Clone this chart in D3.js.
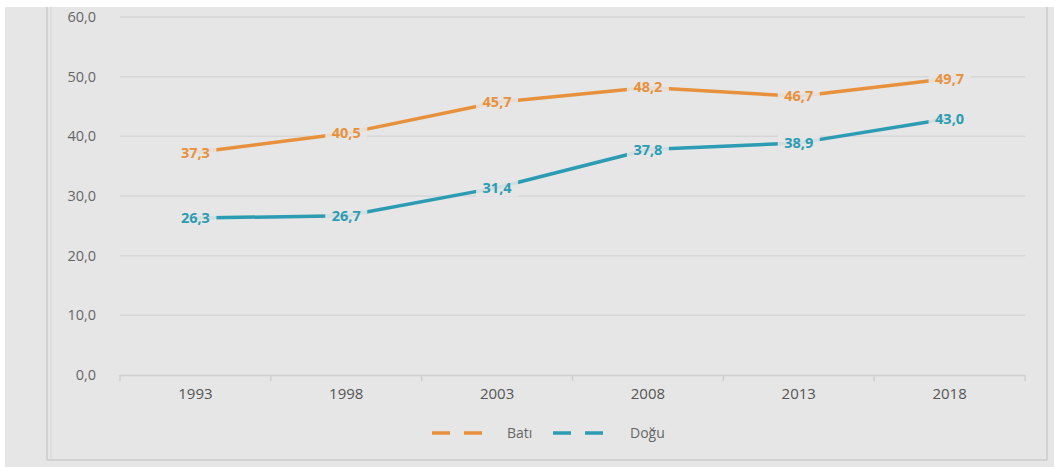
<!DOCTYPE html>
<html><head><meta charset="utf-8">
<script src="https://cdn.jsdelivr.net/npm/d3@7"></script>
<style>
body{margin:0;background:#fff;}
svg{display:block;}
</style></head>
<body>
<svg id="c" width="1054" height="467"></svg>
<script>
const years = ["1993","1998","2003","2008","2013","2018"];
const bati = [37.3, 40.5, 45.7, 48.2, 46.7, 49.7];
const dogu = [26.3, 26.7, 31.4, 37.8, 38.9, 43.0];
const yTicks = [0,10,20,30,40,50,60];
const seriesNames = ["Batı","Doğu"];
const colors = ["#E8913C","#2B9CB3"];

const svg = d3.select("#c");
const fmt = v => d3.format(".1f")(v).replace(".", ",");

// background
svg.append("rect").attr("x",5).attr("y",7).attr("width",1049).attr("height",460).attr("fill","#e6e6e6");
// frame
svg.append("line").attr("x1",47).attr("x2",47).attr("y1",7).attr("y2",460).attr("stroke","#d2d2d2").attr("stroke-width",2);
svg.append("line").attr("x1",51).attr("x2",51).attr("y1",7).attr("y2",460).attr("stroke","#d8d8d8").attr("stroke-width",1.5);
svg.append("line").attr("x1",47).attr("x2",1047).attr("y1",460).attr("y2",460).attr("stroke","#d2d2d2").attr("stroke-width",2);
svg.append("line").attr("x1",1047).attr("x2",1047).attr("y1",7).attr("y2",460).attr("stroke","#d2d2d2").attr("stroke-width",2);

const x = d3.scaleBand().domain(years).range([120,1025]);
const y = d3.scaleLinear().domain([0,60]).range([375,17]);

// grid
const g = svg.append("g");
g.selectAll("line.grid").data(yTicks.filter(d=>d>0)).join("line")
  .attr("x1",120).attr("x2",1025).attr("y1",d=>y(d)).attr("y2",d=>y(d))
  .attr("stroke","#d6d6d6").attr("stroke-width",1.5);

// y axis labels
const yAxis = d3.axisLeft(y).tickValues(yTicks).tickFormat(fmt).tickSize(0).tickPadding(0);
const ya = svg.append("g").attr("transform","translate(96,0)").call(yAxis);
ya.select(".domain").remove();
ya.selectAll("text").attr("fill","#666").attr("font-family","Open Sans, sans-serif").attr("font-size",14.5);

// x axis
const xa = svg.append("g").attr("transform","translate(0,375)")
  .call(d3.axisBottom(x).tickSize(0).tickPadding(13));
xa.select(".domain").attr("stroke","#cfcfcf").attr("stroke-width",1.5);
xa.selectAll("text").attr("fill","#555").attr("font-family","Open Sans, sans-serif").attr("font-size",15);
// boundary ticks
const bounds = years.map(d=>x(d)).concat([x.range()[1]]);
xa.selectAll("line.bt").data(bounds).join("line").attr("class","bt")
  .attr("x1",d=>d).attr("x2",d=>d).attr("y1",0).attr("y2",6)
  .attr("stroke","#cfcfcf").attr("stroke-width",1.5);

const cx = d => x(d) + x.bandwidth()/2;
const line = d3.line().x((d,i)=>cx(years[i])).y(d=>y(d));

[bati, dogu].forEach((s,k)=>{
  svg.append("path").datum(s).attr("d",line).attr("fill","none")
    .attr("stroke",colors[k]).attr("stroke-width",3.5).attr("stroke-linejoin","round");
});
[bati, dogu].forEach((s,k)=>{
  const lg = svg.append("g");
  s.forEach((v,i)=>{
    const t = fmt(v);
    lg.append("rect").attr("x",cx(years[i])-21).attr("y",y(v)-9).attr("width",42).attr("height",18)
      .attr("fill","#e6e6e6").attr("opacity",0.9);
    lg.append("text").attr("x",cx(years[i])).attr("y",y(v)).attr("dy","0.35em")
      .attr("text-anchor","middle").attr("fill",colors[k])
      .attr("font-family","Open Sans, sans-serif").attr("font-size",14.5).attr("font-weight","bold")
      .text(t);
  });
});

// legend
const leg = [{x:432, tx:507}, {x:553, tx:630}];
leg.forEach((L,k)=>{
  svg.append("line").attr("x1",L.x).attr("x2",L.x+51).attr("y1",433).attr("y2",433)
    .attr("stroke",colors[k]).attr("stroke-width",3.5).attr("stroke-dasharray","18,14");
  svg.append("text").attr("x",L.tx).attr("y",433).attr("dy","0.35em")
    .attr("fill","#666").attr("font-family","Open Sans, sans-serif").attr("font-size",14)
    .text(seriesNames[k]);
});
</script>
</body></html>
